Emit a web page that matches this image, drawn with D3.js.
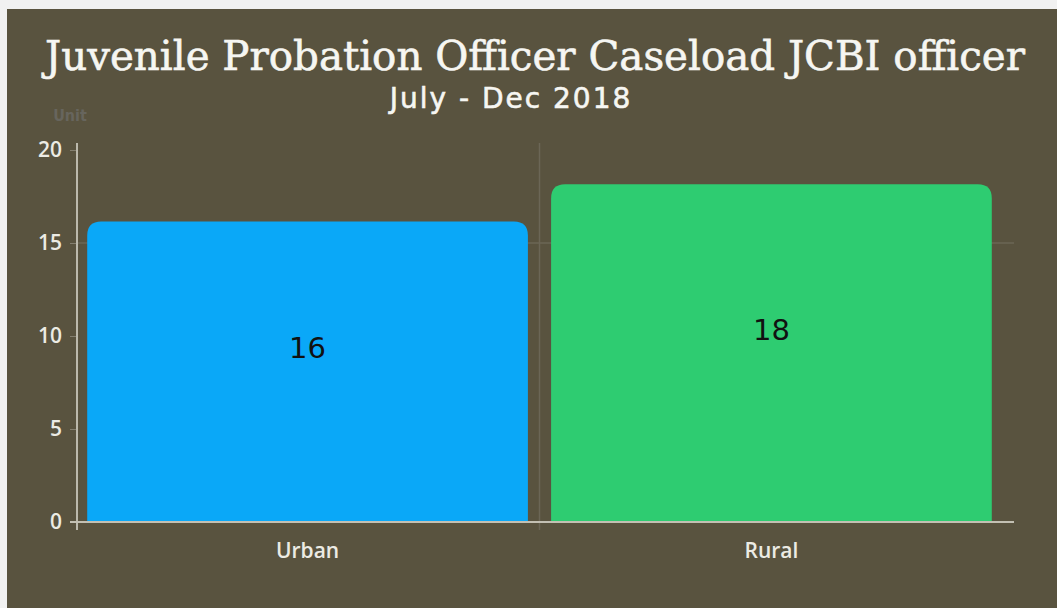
<!DOCTYPE html>
<html>
<head>
<meta charset="utf-8">
<script src="https://cdn.jsdelivr.net/npm/d3@7"></script>
<style>
body { margin: 0; background: #f1f1f1; overflow: hidden; }
.tick text { font-family: "Open Sans", Lato, sans-serif; }
</style>
</head>
<body>
<div class="main"></div>
<script>
//data
var categories = ["Urban", "Rural"];
var values = [16, 18];
var barColors = ["#0aa8f8", "#2ecc71"];
var yTicks = [0, 5, 10, 15, 20];

var W = 1057, H = 608;
var margin = {top: 150, left: 77},
height = 522 - margin.top;

var svg = d3.select(".main")
.append("svg")
.attr("width", W)
.attr("height", H);

//panel
svg.append("rect")
.attr("x", 7)
.attr("y", 9)
.attr("width", W - 7)
.attr("height", H - 9)
.attr("fill", "#59533f");

//titles
svg.append("text")
.attr("x", 535)
.attr("y", 70)
.attr("text-anchor", "middle")
.attr("textLength", 980)
.attr("lengthAdjust", "spacingAndGlyphs")
.style("font-family", "'DejaVu Serif', serif")
.style("font-size", "41px")
.style("fill", "#f6f6f2")
.style("stroke", "#f6f6f2")
.style("stroke-width", 0.6)
.text("Juvenile Probation Officer Caseload JCBI officer");

svg.append("text")
.attr("x", 511)
.attr("y", 108)
.attr("text-anchor", "middle")
.style("font-family", "'DejaVu Sans', sans-serif")
.style("font-size", "28px")
.style("letter-spacing", "2px")
.style("fill", "#f6f6f2")
.style("stroke", "#f6f6f2")
.style("stroke-width", 0.6)
.text("July - Dec 2018");

svg.append("text")
.attr("x", 70)
.attr("y", 121)
.attr("text-anchor", "middle")
.style("font-family", "'DejaVu Sans Condensed', sans-serif")
.style("font-size", "16px")
.style("font-weight", "bold")
.style("fill", "#67655d")
.text("Unit");

var g = svg.append("g")
.attr("transform", "translate(" + margin.left + "," + margin.top + ")");

//scales
var x = d3.scaleBand()
.domain(categories)
.range([0, 925])
.paddingInner(0.05)
.paddingOuter(0.022);

var y = d3.scaleLinear()
.domain([0, 20])
.range([height, 0]);

//grid: category divider and the 15 line
var divX = x(categories[1]) - x.step() * x.paddingInner() / 2;
g.append("line")
.attr("x1", 0).attr("x2", 937)
.attr("y1", y(15)).attr("y2", y(15))
.style("stroke", "#6b6656")
.style("stroke-width", 1.5);

g.append("line")
.attr("x1", divX).attr("x2", divX)
.attr("y1", -7).attr("y2", height + 8)
.style("stroke", "#6b6656")
.style("stroke-width", 1.5);

//bars with rounded tops
var r = 14;
function barPath(d, i) {
  var x0 = x(categories[i]), x1 = x0 + x.bandwidth();
  var top = y(d) - 3, bot = y(0);
  return "M" + x0 + "," + bot +
    "V" + (top + r) +
    "Q" + x0 + "," + top + " " + (x0 + r) + "," + top +
    "H" + (x1 - r) +
    "Q" + x1 + "," + top + " " + x1 + "," + (top + r) +
    "V" + bot + "Z";
}

g.selectAll(".bar")
.data(values)
.enter().append("path")
.attr("class", "bar")
.attr("d", barPath)
.attr("fill", function(d, i) { return barColors[i]; });

g.selectAll(".val")
.data(values)
.enter().append("text")
.attr("class", "val")
.attr("x", function(d, i) { return x(categories[i]) + x.bandwidth() / 2; })
.attr("y", function(d) { return y(d / 2) - 25; })
.attr("dy", ".35em")
.attr("text-anchor", "middle")
.style("font-family", "'DejaVu Sans', sans-serif")
.style("font-size", "29px")
.style("fill", "#111")
.text(function(d) { return d; });

//axes
var yAxis = d3.axisLeft(y)
.tickValues(yTicks)
.tickSize(7)
.tickPadding(8);

var ya = g.append("g")
.attr("class", "y axis")
.call(yAxis);
ya.select(".domain").remove();
ya.selectAll(".tick line").style("stroke", "#858070");
ya.selectAll(".tick text")
.style("font-size", "21px")
.style("font-weight", "600")
.style("fill", "#ecebe4");
ya.append("line")
.attr("x1", 0).attr("x2", 0)
.attr("y1", -7).attr("y2", height + 8)
.style("stroke", "#bcb9ac")
.style("stroke-width", 2);

var xAxis = d3.axisBottom(x)
.tickSize(0)
.tickPadding(21);

var xa = g.append("g")
.attr("class", "x axis")
.attr("transform", "translate(0," + height + ")")
.call(xAxis);
xa.select(".domain").remove();
xa.selectAll(".tick text")
.style("font-size", "21px")
.style("font-weight", "600")
.style("fill", "#ecebe4");
xa.append("line")
.attr("x1", -7).attr("x2", 937)
.attr("y1", 0).attr("y2", 0)
.style("stroke", "#c3c0b3")
.style("stroke-width", 2);
</script>
</body>
</html>
